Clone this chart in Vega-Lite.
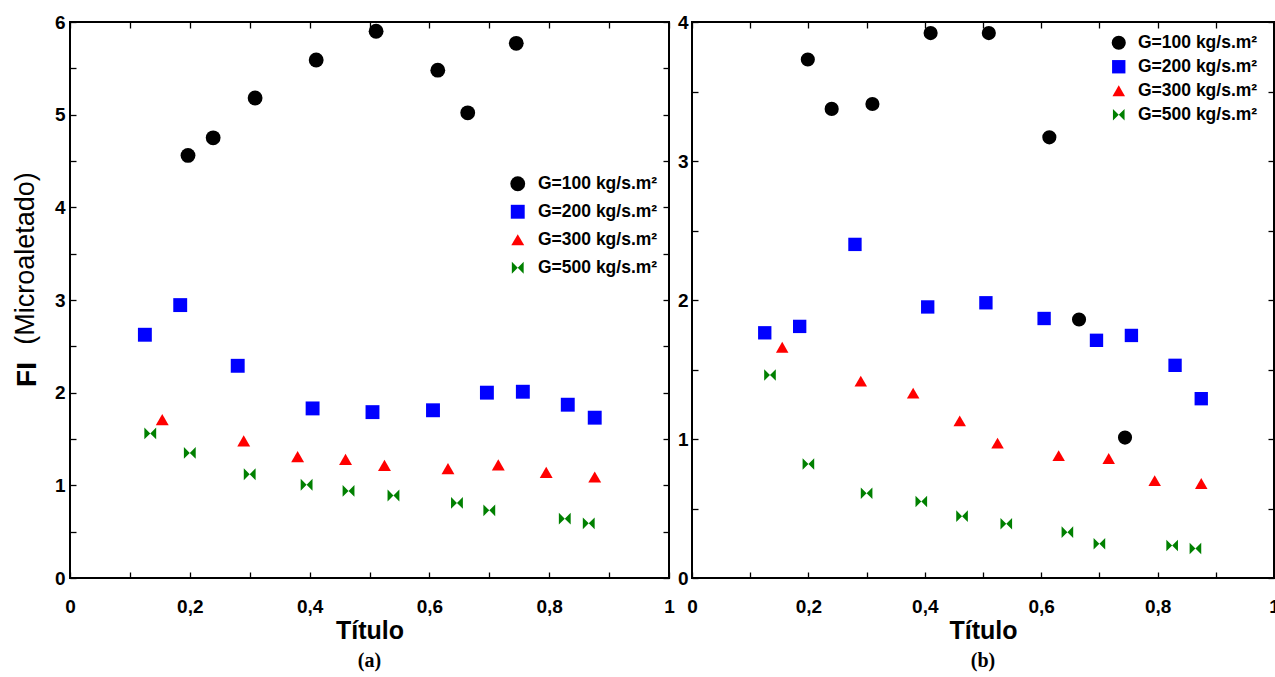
{
  "$schema": "https://vega.github.io/schema/vega-lite/v6.json",
  "padding": {"left": 10, "top": 12, "right": 0, "bottom": 0},
  "background": "white",
  "datasets": {
    "a": [
      {"G": "G=100 kg/s.m²", "x": 0.197, "y": 4.56},
      {"G": "G=100 kg/s.m²", "x": 0.239, "y": 4.75},
      {"G": "G=100 kg/s.m²", "x": 0.309, "y": 5.18},
      {"G": "G=100 kg/s.m²", "x": 0.411, "y": 5.59},
      {"G": "G=100 kg/s.m²", "x": 0.511, "y": 5.9},
      {"G": "G=100 kg/s.m²", "x": 0.614, "y": 5.48},
      {"G": "G=100 kg/s.m²", "x": 0.664, "y": 5.02},
      {"G": "G=100 kg/s.m²", "x": 0.745, "y": 5.77},
      {"G": "G=200 kg/s.m²", "x": 0.125, "y": 2.625},
      {"G": "G=200 kg/s.m²", "x": 0.184, "y": 2.945},
      {"G": "G=200 kg/s.m²", "x": 0.28, "y": 2.29},
      {"G": "G=200 kg/s.m²", "x": 0.405, "y": 1.83},
      {"G": "G=200 kg/s.m²", "x": 0.505, "y": 1.79},
      {"G": "G=200 kg/s.m²", "x": 0.606, "y": 1.81},
      {"G": "G=200 kg/s.m²", "x": 0.696, "y": 2.0},
      {"G": "G=200 kg/s.m²", "x": 0.756, "y": 2.01},
      {"G": "G=200 kg/s.m²", "x": 0.831, "y": 1.87},
      {"G": "G=200 kg/s.m²", "x": 0.876, "y": 1.73},
      {"G": "G=300 kg/s.m²", "x": 0.154, "y": 1.71},
      {"G": "G=300 kg/s.m²", "x": 0.29, "y": 1.48},
      {"G": "G=300 kg/s.m²", "x": 0.38, "y": 1.31},
      {"G": "G=300 kg/s.m²", "x": 0.46, "y": 1.28},
      {"G": "G=300 kg/s.m²", "x": 0.525, "y": 1.215},
      {"G": "G=300 kg/s.m²", "x": 0.631, "y": 1.18},
      {"G": "G=300 kg/s.m²", "x": 0.715, "y": 1.22},
      {"G": "G=300 kg/s.m²", "x": 0.795, "y": 1.14},
      {"G": "G=300 kg/s.m²", "x": 0.876, "y": 1.09},
      {"G": "G=500 kg/s.m²", "x": 0.134, "y": 1.56},
      {"G": "G=500 kg/s.m²", "x": 0.2, "y": 1.35},
      {"G": "G=500 kg/s.m²", "x": 0.3, "y": 1.12},
      {"G": "G=500 kg/s.m²", "x": 0.395, "y": 1.006},
      {"G": "G=500 kg/s.m²", "x": 0.465, "y": 0.94},
      {"G": "G=500 kg/s.m²", "x": 0.54, "y": 0.89},
      {"G": "G=500 kg/s.m²", "x": 0.646, "y": 0.81},
      {"G": "G=500 kg/s.m²", "x": 0.7, "y": 0.73},
      {"G": "G=500 kg/s.m²", "x": 0.826, "y": 0.64},
      {"G": "G=500 kg/s.m²", "x": 0.866, "y": 0.59}
    ],
    "b": [
      {"G": "G=100 kg/s.m²", "x": 0.199, "y": 3.73},
      {"G": "G=100 kg/s.m²", "x": 0.24, "y": 3.375},
      {"G": "G=100 kg/s.m²", "x": 0.31, "y": 3.41},
      {"G": "G=100 kg/s.m²", "x": 0.41, "y": 3.92},
      {"G": "G=100 kg/s.m²", "x": 0.51, "y": 3.92},
      {"G": "G=100 kg/s.m²", "x": 0.614, "y": 3.17},
      {"G": "G=100 kg/s.m²", "x": 0.665, "y": 1.86},
      {"G": "G=100 kg/s.m²", "x": 0.744, "y": 1.01},
      {"G": "G=200 kg/s.m²", "x": 0.125, "y": 1.764},
      {"G": "G=200 kg/s.m²", "x": 0.185, "y": 1.81},
      {"G": "G=200 kg/s.m²", "x": 0.28, "y": 2.4},
      {"G": "G=200 kg/s.m²", "x": 0.405, "y": 1.95},
      {"G": "G=200 kg/s.m²", "x": 0.505, "y": 1.98},
      {"G": "G=200 kg/s.m²", "x": 0.605, "y": 1.867},
      {"G": "G=200 kg/s.m²", "x": 0.695, "y": 1.71},
      {"G": "G=200 kg/s.m²", "x": 0.755, "y": 1.745},
      {"G": "G=200 kg/s.m²", "x": 0.83, "y": 1.53},
      {"G": "G=200 kg/s.m²", "x": 0.875, "y": 1.29},
      {"G": "G=300 kg/s.m²", "x": 0.155, "y": 1.66},
      {"G": "G=300 kg/s.m²", "x": 0.29, "y": 1.416},
      {"G": "G=300 kg/s.m²", "x": 0.38, "y": 1.33},
      {"G": "G=300 kg/s.m²", "x": 0.46, "y": 1.13},
      {"G": "G=300 kg/s.m²", "x": 0.525, "y": 0.97},
      {"G": "G=300 kg/s.m²", "x": 0.63, "y": 0.88},
      {"G": "G=300 kg/s.m²", "x": 0.716, "y": 0.86},
      {"G": "G=300 kg/s.m²", "x": 0.795, "y": 0.7},
      {"G": "G=300 kg/s.m²", "x": 0.875, "y": 0.68},
      {"G": "G=500 kg/s.m²", "x": 0.134, "y": 1.46},
      {"G": "G=500 kg/s.m²", "x": 0.2, "y": 0.82},
      {"G": "G=500 kg/s.m²", "x": 0.3, "y": 0.61},
      {"G": "G=500 kg/s.m²", "x": 0.394, "y": 0.55},
      {"G": "G=500 kg/s.m²", "x": 0.464, "y": 0.445},
      {"G": "G=500 kg/s.m²", "x": 0.54, "y": 0.39},
      {"G": "G=500 kg/s.m²", "x": 0.645, "y": 0.33},
      {"G": "G=500 kg/s.m²", "x": 0.7, "y": 0.246},
      {"G": "G=500 kg/s.m²", "x": 0.825, "y": 0.234},
      {"G": "G=500 kg/s.m²", "x": 0.865, "y": 0.212}
    ]
  },
  "hconcat": [
    {
      "width": 599,
      "height": 556,
      "data": {"name": "a"},
      "title": {"text": "(a)", "orient": "bottom", "font": "Liberation Serif", "fontSize": 20, "fontWeight": "bold", "color": "black", "offset": 8},
      "layer": [
        {
          "mark": {"type": "point", "filled": true, "opacity": 1, "strokeWidth": 0},
          "encoding": {
            "x": {"field": "x", "type": "quantitative", "scale": {"domain": [0, 1], "nice": false, "zero": false},
              "axis": {"orient": "bottom", "values": [0, 0.1, 0.2, 0.3, 0.4, 0.5, 0.6, 0.7, 0.8, 0.9, 1],
                "labelExpr": "round(datum.value*10) % 2 == 1 ? '' : (datum.value == 0 ? '0' : (datum.value == 1 ? '1' : replace(format(datum.value, '.1f'), '.', ',')))",
                "tickSize": -6, "labelPadding": 25, "title": "Título", "titleX": 299.5, "titleY": 60, "titleBaseline": "alphabetic", "titleAlign": "center"}},
            "y": {"field": "y", "type": "quantitative", "scale": {"domain": [0, 6], "nice": false, "zero": false},
              "axis": {"orient": "left", "values": [0, 0.5, 1, 1.5, 2, 2.5, 3, 3.5, 4, 4.5, 5, 5.5, 6],
                "labelExpr": "datum.value % 1 == 0 ? format(datum.value, 'd') : ''",
                "tickSize": -6, "labelPadding": 11, "title": "(Microaletado)", "titleFontWeight": "normal", "titleFontSize": 27,
                "titleX": -37, "titleY": 236, "titleAngle": 270, "titleBaseline": "alphabetic", "titleAlign": "center"}},
            "color": {"field": "G", "type": "nominal",
              "scale": {"domain": ["G=100 kg/s.m²", "G=200 kg/s.m²", "G=300 kg/s.m²", "G=500 kg/s.m²"], "range": ["#000000", "#0000FF", "#FF0000", "#008000"]},
              "legend": {"title": null, "orient": "none", "legendX": 439, "legendY": 153, "rowPadding": 9, "labelOffset": 11.5}},
            "shape": {"field": "G", "type": "nominal",
              "scale": {"domain": ["G=100 kg/s.m²", "G=200 kg/s.m²", "G=300 kg/s.m²", "G=500 kg/s.m²"], "range": ["circle", "square", "triangle-up", "M-1,-1L0,0L-1,1ZM1,-1L0,0L1,1Z"]},
              "legend": {"title": null, "orient": "none", "legendX": 439, "legendY": 153, "rowPadding": 9, "labelOffset": 11.5}},
            "size": {"field": "G", "type": "nominal",
              "scale": {"domain": ["G=100 kg/s.m²", "G=200 kg/s.m²", "G=300 kg/s.m²", "G=500 kg/s.m²"], "range": [220, 140, 160, 140]},
              "legend": {"title": null, "orient": "none", "legendX": 439, "legendY": 153, "rowPadding": 9, "labelOffset": 11.5}}
          }
        },
        {
          "mark": {"type": "point", "opacity": 0},
          "encoding": {
            "x": {"field": "x", "type": "quantitative", "axis": {"orient": "top", "values": [0, 0.1, 0.2, 0.3, 0.4, 0.5, 0.6, 0.7, 0.8, 0.9, 1], "labels": false, "tickSize": -6, "title": null}},
            "y": {"field": "y", "type": "quantitative", "axis": {"orient": "right", "values": [0, 0.5, 1, 1.5, 2, 2.5, 3, 3.5, 4, 4.5, 5, 5.5, 6], "labels": false, "tickSize": -6, "title": null}}
          }
        },
        {
          "mark": {"type": "point", "opacity": 0},
          "encoding": {
            "y": {"field": "y", "type": "quantitative", "axis": {"orient": "left", "labels": false, "ticks": false, "domain": false, "title": "FI", "titleFontWeight": "bold", "titleFontSize": 28,
              "titleX": -35, "titleY": 352, "titleAngle": 270, "titleBaseline": "alphabetic", "titleAlign": "center"}}
          }
        }
      ],
      "resolve": {"axis": {"x": "independent", "y": "independent"}}
    },
    {
      "width": 582,
      "height": 556,
      "data": {"name": "b"},
      "title": {"text": "(b)", "orient": "bottom", "font": "Liberation Serif", "fontSize": 20, "fontWeight": "bold", "color": "black", "offset": 8},
      "layer": [
        {
          "mark": {"type": "point", "filled": true, "opacity": 1, "strokeWidth": 0},
          "encoding": {
            "x": {"field": "x", "type": "quantitative", "scale": {"domain": [0, 1], "nice": false, "zero": false},
              "axis": {"orient": "bottom", "values": [0, 0.1, 0.2, 0.3, 0.4, 0.5, 0.6, 0.7, 0.8, 0.9, 1],
                "labelExpr": "round(datum.value*10) % 2 == 1 ? '' : (datum.value == 0 ? '0' : (datum.value == 1 ? '1' : replace(format(datum.value, '.1f'), '.', ',')))",
                "tickSize": -6, "labelPadding": 25, "title": "Título", "titleX": 291, "titleY": 60, "titleBaseline": "alphabetic", "titleAlign": "center"}},
            "y": {"field": "y", "type": "quantitative", "scale": {"domain": [0, 4], "nice": false, "zero": false},
              "axis": {"orient": "left", "values": [0, 0.5, 1, 1.5, 2, 2.5, 3, 3.5, 4],
                "labelExpr": "datum.value % 1 == 0 ? format(datum.value, 'd') : ''",
                "tickSize": -6, "labelPadding": 10, "title": null}},
            "color": {"field": "G", "type": "nominal",
              "scale": {"domain": ["G=100 kg/s.m²", "G=200 kg/s.m²", "G=300 kg/s.m²", "G=500 kg/s.m²"], "range": ["#000000", "#0000FF", "#FF0000", "#008000"]},
              "legend": {"title": null, "orient": "none", "legendX": 418, "legendY": 12, "rowPadding": 5, "labelOffset": 10.5}},
            "shape": {"field": "G", "type": "nominal",
              "scale": {"domain": ["G=100 kg/s.m²", "G=200 kg/s.m²", "G=300 kg/s.m²", "G=500 kg/s.m²"], "range": ["circle", "square", "triangle-up", "M-1,-1L0,0L-1,1ZM1,-1L0,0L1,1Z"]},
              "legend": {"title": null, "orient": "none", "legendX": 418, "legendY": 12, "rowPadding": 5, "labelOffset": 10.5}},
            "size": {"field": "G", "type": "nominal",
              "scale": {"domain": ["G=100 kg/s.m²", "G=200 kg/s.m²", "G=300 kg/s.m²", "G=500 kg/s.m²"], "range": [200, 135, 160, 140]},
              "legend": {"title": null, "orient": "none", "legendX": 418, "legendY": 12, "rowPadding": 5, "labelOffset": 10.5}}
          }
        },
        {
          "mark": {"type": "point", "opacity": 0},
          "encoding": {
            "x": {"field": "x", "type": "quantitative", "axis": {"orient": "top", "values": [0, 0.1, 0.2, 0.3, 0.4, 0.5, 0.6, 0.7, 0.8, 0.9, 1], "labels": false, "tickSize": -6, "title": null}},
            "y": {"field": "y", "type": "quantitative", "axis": {"orient": "right", "values": [0, 0.5, 1, 1.5, 2, 2.5, 3, 3.5, 4], "labels": false, "tickSize": -6, "title": null}}
          }
        }
      ],
      "resolve": {"axis": {"x": "independent", "y": "independent"}}
    }
  ],
  "resolve": {
    "scale": {"color": "independent", "shape": "independent", "size": "independent"},
    "legend": {"color": "independent", "shape": "independent", "size": "independent"}
  },
  "spacing": 23,
  "bounds": "flush",
  "config": {
    "font": "Liberation Sans",
    "view": {"stroke": "black", "strokeWidth": 2},
    "axis": {"grid": false, "domain": false, "tickColor": "black", "tickWidth": 1.3,
      "labelFont": "Liberation Sans", "labelFontSize": 19, "labelFontWeight": "bold", "labelColor": "black",
      "labelFlush": false, "labelOverlap": false,
      "titleFont": "Liberation Sans", "titleFontSize": 25, "titleFontWeight": "bold", "titleColor": "black"},
    "legend": {"labelFont": "Liberation Sans", "labelFontSize": 17.5, "labelFontWeight": "bold", "labelColor": "black",
      "padding": 0, "symbolStrokeWidth": 0, "symbolOpacity": 1, "labelLimit": 300}
  }
}
